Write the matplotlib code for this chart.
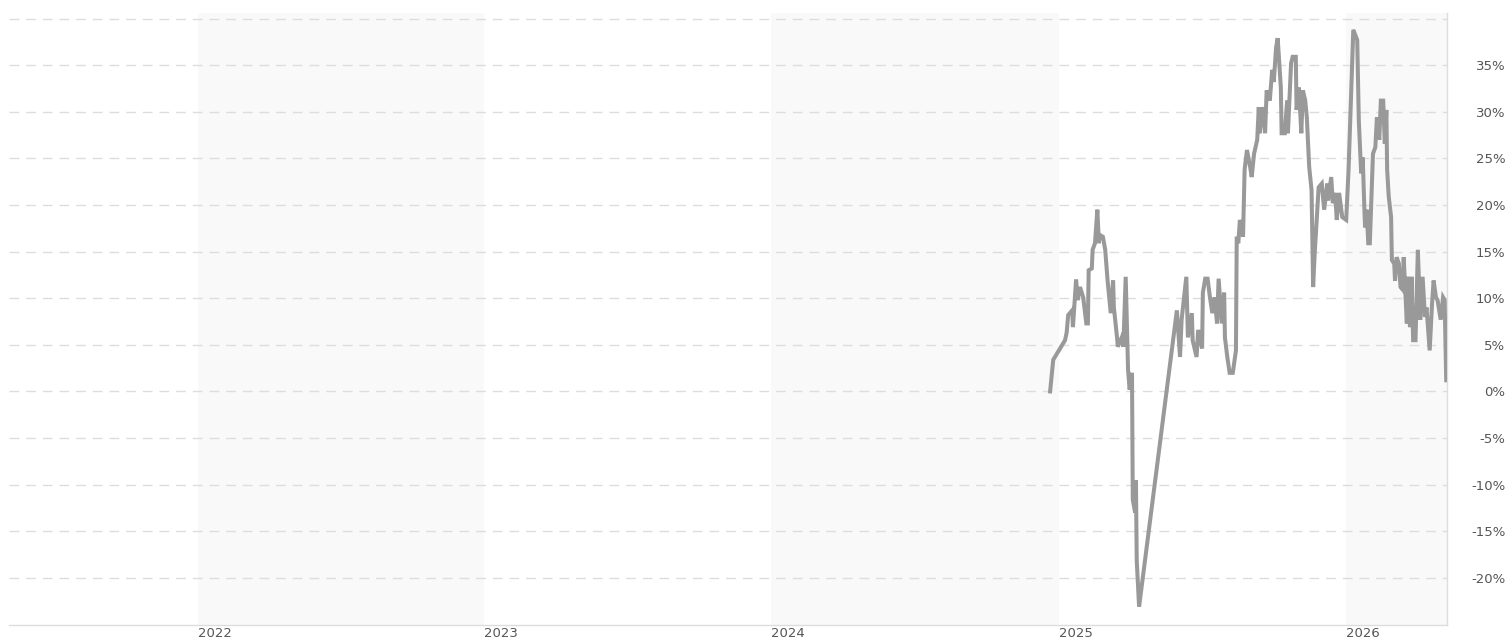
import matplotlib.pyplot as plt
import numpy as np
import pandas as pd

# Series (percent change)
dates = [
    "2024-12-22", "2024-12-26", "2025-01-10", "2025-01-12", "2025-01-14", "2025-01-19",
    "2025-01-20", "2025-01-24", "2025-01-26", "2025-01-29", "2025-02-02", "2025-02-06",
    "2025-02-08", "2025-02-09", "2025-02-13", "2025-02-14", "2025-02-17", "2025-02-20",
    "2025-02-22", "2025-02-23", "2025-02-27", "2025-03-02", "2025-03-05", "2025-03-09",
    "2025-03-12", "2025-03-13", "2025-03-17", "2025-03-18", "2025-03-23", "2025-03-25",
    "2025-03-28", "2025-03-31", "2025-04-02", "2025-04-05", "2025-04-06", "2025-04-09",
    "2025-04-10", "2025-04-11", "2025-04-14", "2025-06-01", "2025-06-05", "2025-06-07",
    "2025-06-13", "2025-06-15", "2025-06-20", "2025-06-21", "2025-06-26", "2025-06-28",
    "2025-07-03", "2025-07-04", "2025-07-07", "2025-07-10", "2025-07-13", "2025-07-16",
    "2025-07-19", "2025-07-22", "2025-07-24", "2025-07-28", "2025-07-31", "2025-08-01",
    "2025-08-04", "2025-08-07", "2025-08-11", "2025-08-15", "2025-08-16", "2025-08-18",
    "2025-08-20", "2025-08-24", "2025-08-26", "2025-08-29", "2025-09-02", "2025-09-04",
    "2025-09-07", "2025-09-11", "2025-09-13", "2025-09-14", "2025-09-17", "2025-09-21",
    "2025-09-23", "2025-09-27", "2025-09-30", "2025-10-02", "2025-10-05", "2025-10-07",
    "2025-10-11", "2025-10-12", "2025-10-16", "2025-10-19", "2025-10-20", "2025-10-24",
    "2025-10-26", "2025-10-30", "2025-10-31", "2025-11-03", "2025-11-06", "2025-11-08",
    "2025-11-11", "2025-11-13", "2025-11-16", "2025-11-19", "2025-11-21", "2025-11-23",
    "2025-11-26", "2025-11-28", "2025-12-02", "2025-12-05", "2025-12-09", "2025-12-10",
    "2025-12-14", "2025-12-16", "2025-12-19", "2025-12-21", "2025-12-24", "2025-12-28",
    "2026-01-02", "2026-01-05", "2026-01-11", "2026-01-16", "2026-01-18", "2026-01-21",
    "2026-01-23", "2026-01-25", "2026-01-26", "2026-01-28", "2026-01-30", "2026-02-01",
    "2026-02-05", "2026-02-08", "2026-02-10", "2026-02-13", "2026-02-15", "2026-02-18",
    "2026-02-20", "2026-02-22", "2026-02-23", "2026-02-25", "2026-02-28", "2026-03-01",
    "2026-03-04", "2026-03-05", "2026-03-07", "2026-03-10", "2026-03-12", "2026-03-15",
    "2026-03-16", "2026-03-20", "2026-03-21", "2026-03-24", "2026-03-26", "2026-03-28",
    "2026-03-31", "2026-04-03", "2026-04-06", "2026-04-09", "2026-04-12", "2026-04-14",
    "2026-04-18", "2026-04-21", "2026-04-23", "2026-04-26", "2026-04-28", "2026-05-02",
    "2026-05-05", "2026-05-07", "2026-05-09",
]
values = [
    0.0, 3.4, 5.5, 6.3, 8.2, 8.7,
    6.9, 12.0, 9.8, 11.2, 10.1, 7.3,
    7.3, 13.0, 13.2, 15.2, 15.9, 19.5,
    15.9, 16.8, 16.6, 15.2, 11.9, 8.4,
    11.9, 9.0, 5.8, 4.8, 5.8, 4.8,
    12.3, 2.3, 0.2, 2.0, -11.6, -13.0,
    -9.5, -18.1, -23.1, 8.7, 3.7, 7.7,
    12.3, 5.8, 8.4, 5.5, 3.7, 6.6,
    4.6, 10.6, 12.1, 12.1, 10.1, 8.4,
    10.1, 7.3, 12.1, 7.3, 10.6, 5.8,
    3.7, 2.0, 2.0, 4.4, 16.6, 15.9,
    18.4, 16.6, 23.8, 25.9, 24.1, 23.0,
    25.5, 27.0, 30.5, 27.7, 30.5, 27.7,
    32.3, 31.2, 34.5, 33.2, 36.9, 37.9,
    32.6, 27.7, 27.7, 31.2, 27.7, 35.2,
    35.9, 35.9, 30.2, 32.6, 27.7, 32.3,
    31.2, 29.4, 24.1, 21.6, 11.2, 14.8,
    19.1, 21.9, 22.3, 19.5, 22.3, 20.5,
    23.0, 20.2, 21.3, 18.4, 21.3, 18.7,
    18.4, 23.8, 38.8, 37.7, 29.1, 23.4,
    25.1, 19.8, 17.6, 19.5, 15.9, 15.9,
    25.5, 26.2, 29.4, 27.0, 31.2, 31.2,
    26.6, 30.2, 23.8, 20.9, 18.7, 14.1,
    13.7, 11.9, 14.4, 13.7, 11.2, 10.9,
    14.4, 7.3, 12.3, 6.9, 12.3, 5.5,
    5.5, 15.2, 7.7, 12.3, 8.0, 9.0,
    4.4, 9.4, 11.9, 10.1, 9.8, 7.7,
    10.1, 9.8, 1.2,
]

# first trading day of each year (band edges and year ticks)
year_labels = ["2022", "2023", "2024", "2025", "2026"]
year_starts = ["2022-01-05", "2023-01-03", "2024-01-02", "2025-01-02", "2026-01-02"]
shaded = [True, False, True, False, True]
y_ticks = [-20, -15, -10, -5, 0, 5, 10, 15, 20, 25, 30, 35, 40]
x_start, x_end = "2021-05-10", "2026-05-10"

dates = pd.to_datetime(dates)
year_starts = pd.to_datetime(year_starts)
text_color = "#555555"
grid_color = "#dddddd"

fig = plt.figure(figsize=(15.11, 6.42), dpi=100)
ax = fig.add_axes([9 / 1511, (642 - 624.5) / 642, (1447 - 9) / 1511, (624.5 - 13) / 642])

x0, x1 = pd.Timestamp(x_start), pd.Timestamp(x_end)
edges = list(year_starts) + [x1]
for i, s in enumerate(shaded):
    if s:
        ax.axvspan(edges[i], edges[i + 1], color="#f9f9f9", lw=0, zorder=0)

ax.plot(dates, values, color="#999999", lw=2.9, solid_joinstyle="miter", zorder=3)

ax.set_xlim(x0, x1)
ax.set_ylim(-25, 40.6)

ax.set_yticks(y_ticks)
ax.set_yticklabels([f"{v}%" if v < 40 else "" for v in y_ticks])
ax.yaxis.tick_right()
ax.grid(axis="y", color=grid_color, ls=(0, (7, 5)), lw=1)
ax.tick_params(axis="y", length=0, pad=42, labelsize=9.5, labelcolor=text_color)
for lab in ax.get_yticklabels():
    lab.set_horizontalalignment("right")

ax.set_xticks(year_starts)
ax.set_xticklabels(year_labels)
ax.tick_params(axis="x", length=0, pad=2, labelsize=9.5, labelcolor=text_color)
for lab in ax.get_xticklabels():
    lab.set_horizontalalignment("left")

for side in ["top", "left"]:
    ax.spines[side].set_visible(False)
for side in ["bottom", "right"]:
    ax.spines[side].set_color(grid_color)
    ax.spines[side].set_linewidth(1)

plt.savefig("out.png", dpi=100)
